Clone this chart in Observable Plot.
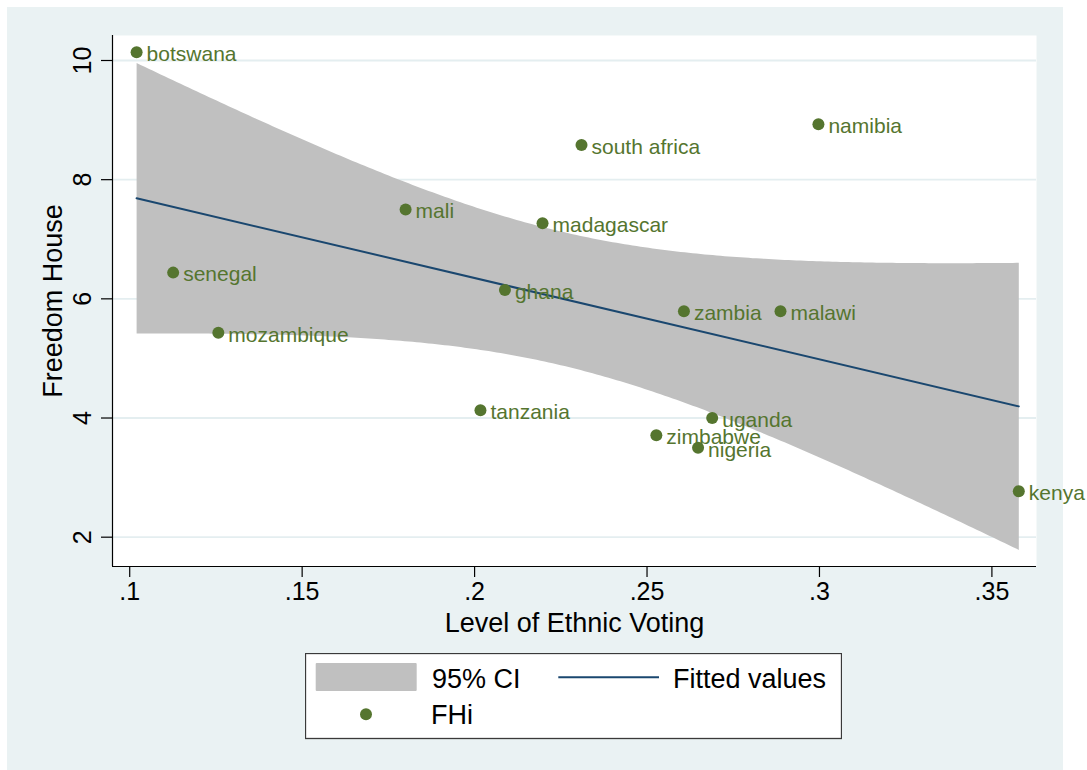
<!DOCTYPE html>
<html><head><meta charset="utf-8">
<script src="https://cdn.jsdelivr.net/npm/d3@7"></script>
<script src="https://cdn.jsdelivr.net/npm/@observablehq/plot@0.6"></script>
<style>
body{margin:0;background:#fff;font-family:"Liberation Sans",Arial,sans-serif;}
#panel{position:absolute;left:7px;top:7px;width:1056px;height:763px;background:#eaf2f3;}
#chart{position:absolute;left:0;top:0;}
#legend{position:absolute;left:305px;top:653px;}
</style></head>
<body>
<div id="panel"></div>
<div id="chart"></div>
<div id="legend"></div>
<script>
// ---- data ----
const countries = ["botswana","senegal","mozambique","mali","ghana","tanzania","madagascar","south africa","zambia","malawi","uganda","zimbabwe","nigeria","kenya","namibia"];
const ethnicVoting = [0.1020,0.1126,0.1257,0.1800,0.2088,0.2017,0.2197,0.2310,0.2607,0.2887,0.2689,0.2527,0.2648,0.3578,0.2997];
const freedomHouse = [10.14,6.44,5.43,7.50,6.15,4.13,7.27,8.58,5.79,5.79,4.00,3.71,3.50,2.77,8.93];
const xTicks = [0.1,0.15,0.2,0.25,0.3,0.35];
const xTickLabels = [".1",".15",".2",".25",".3",".35"];
const yTicks = [2,4,6,8,10];
const yTickLabels = ["2","4","6","8","10"];
const xTitle = "Level of Ethnic Voting";
const yTitle = "Freedom House";
const legendLabels = ["95% CI","Fitted values","FHi"];
const xDomain = [0.09501,0.36293];
const yDomain = [1.508,10.4195];

const green = "#55752f", navy = "#1a476f", ciGray = "#c0c0c0";
const data = countries.map((c,i)=>({country:c, x:ethnicVoting[i], y:freedomHouse[i]}));
const font = '"Liberation Sans",Arial,sans-serif';

const chart = Plot.plot({
  width:1087, height:650,
  marginLeft:112, marginRight:51, marginTop:35, marginBottom:84,
  style:{background:"transparent", fontFamily:font, color:"#000", overflow:"visible"},
  x:{domain:xDomain},
  y:{domain:yDomain},
  marks:[
    Plot.frame({fill:"#fff", stroke:null}),
    Plot.gridY(yTicks,{stroke:"#e4eef0", strokeWidth:1.8, strokeOpacity:1}),
    Plot.linearRegressionY(data,{x:"x", y:"y", ci:0.95, stroke:navy, strokeWidth:2, fill:ciGray, fillOpacity:1}),
    Plot.dot(data,{x:"x", y:"y", r:6, fill:green}),
    Plot.text(data,{x:"x", y:"y", text:"country", textAnchor:"start", dx:10, dy:2, fill:green, fontSize:21}),
    Plot.ruleX([xDomain[0]],{stroke:"#000", strokeWidth:1.2}),
    Plot.ruleY([yDomain[0]],{stroke:"#000", strokeWidth:1.2}),
    Plot.axisX(xTicks,{tickFormat:(d,i)=>xTickLabels[i], tickSize:11, tickPadding:5, fontSize:25, label:null, strokeWidth:1.2}),
    Plot.axisY(yTicks,{tickFormat:(d,i)=>yTickLabels[i], tickRotate:-90, tickSize:11, tickPadding:10.7, fontSize:25, label:null, strokeWidth:1.2}),
    Plot.text([xTitle],{frameAnchor:"bottom", lineAnchor:"bottom", dy:65, fontSize:27, fill:"#000"}),
    Plot.text([yTitle],{frameAnchor:"left", rotate:-90, textAnchor:"middle", lineAnchor:"bottom", dx:-51, fontSize:27, fill:"#000"})
  ]
});
document.getElementById("chart").appendChild(chart);

// ---- legend ----
const lg = d3.select("#legend").append("svg").attr("width",537).attr("height",87)
  .style("font-family",font);
lg.append("rect").attr("x",0.5).attr("y",0.5).attr("width",536).attr("height",85)
  .attr("fill","#fff").attr("stroke","#3a3a3a").attr("stroke-width",1.3);
lg.append("rect").attr("x",10.7).attr("y",10).attr("width",101).attr("height",28).attr("rx",1).attr("fill",ciGray);
lg.append("text").attr("x",127).attr("y",35.3).attr("font-size",27).attr("fill","#000").text(legendLabels[0]);
lg.append("line").attr("x1",253.3).attr("x2",354).attr("y1",24.3).attr("y2",24.3).attr("stroke",navy).attr("stroke-width",2);
lg.append("text").attr("x",368).attr("y",35.3).attr("font-size",27).attr("fill","#000").text(legendLabels[1]);
lg.append("circle").attr("cx",61).attr("cy",61.3).attr("r",6).attr("fill",green);
lg.append("text").attr("x",126).attr("y",71.3).attr("font-size",27).attr("fill","#000").text(legendLabels[2]);
</script>
</body></html>
